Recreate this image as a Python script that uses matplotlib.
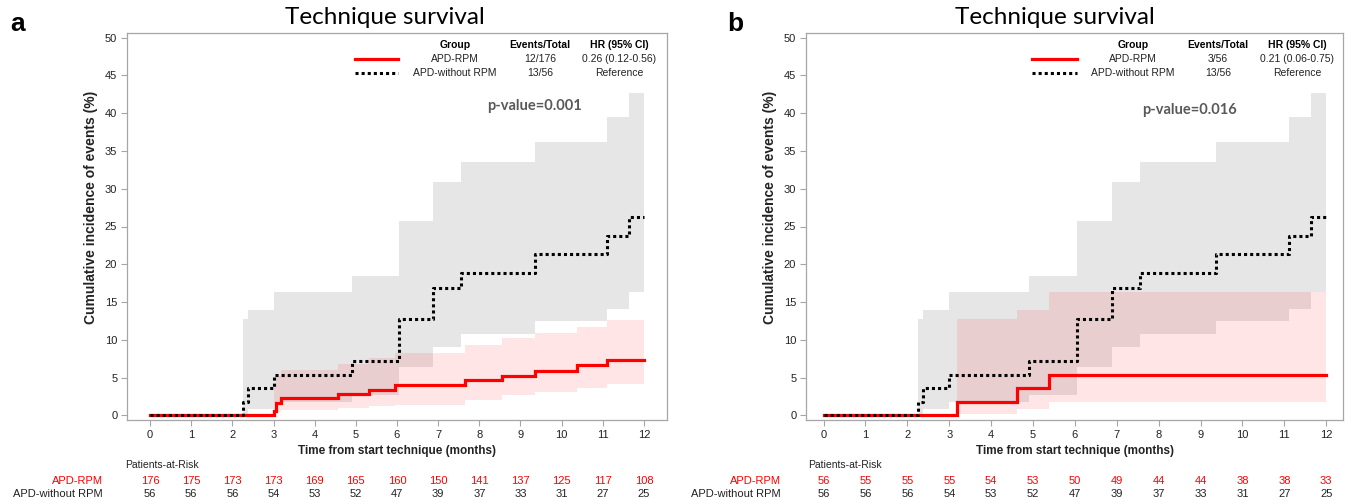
import matplotlib
matplotlib.use("Agg")
import matplotlib.pyplot as plt
import numpy as np
from matplotlib.transforms import blended_transform_factory

# ---------------- data ----------------
months = list(range(0, 13))

# APD-without RPM (reference) - shared in both panels
ref_t = [0, 2.26, 2.38, 3.0, 4.9, 6.04, 6.88, 7.56, 9.36, 11.11, 11.64, 12]
ref_est = [0, 1.79, 3.57, 5.36, 7.14, 12.8, 16.8, 18.9, 21.3, 23.7, 26.3, 26.3]
ref_up = [0, 12.7, 14.0, 16.3, 18.5, 25.7, 30.9, 33.5, 36.2, 39.5, 42.6, 42.6]
ref_lo = [0, 0.25, 0.9, 1.8, 2.7, 6.4, 9.1, 10.8, 12.5, 14.15, 16.3, 16.3]

# Panel a: APD-RPM (all)
a_t = [0, 3.0, 3.07, 3.19, 4.57, 5.31, 5.94, 7.64, 8.55, 9.36, 10.38, 11.11, 12]
a_est = [0, 0.57, 1.71, 2.28, 2.9, 3.43, 4.0, 4.67, 5.24, 5.9, 6.65, 7.3, 7.3]
a_up = [0, 4.0, 5.2, 6.0, 6.75, 7.6, 8.2, 9.3, 10.2, 10.85, 11.7, 12.6, 12.6]
a_lo = [0, 0.1, 0.5, 0.7, 1.0, 1.2, 1.36, 2.0, 2.7, 3.1, 3.57, 4.2, 4.2]

# Panel b: APD-RPM (matched)
b_t = [0, 3.18, 4.61, 5.38, 12]
b_est = [0, 1.79, 3.57, 5.36, 5.36]
b_up = [0, 12.7, 14.0, 16.3, 16.3]
b_lo = [0, 0.25, 0.9, 1.8, 1.8]

risk_ref = [56, 56, 56, 54, 53, 52, 47, 39, 37, 33, 31, 27, 25]
risk_a = [176, 175, 173, 173, 169, 165, 160, 150, 141, 137, 125, 117, 108]
risk_b = [56, 55, 55, 55, 54, 53, 50, 49, 44, 44, 38, 38, 33]

legend_a = ["12/176", "0.26 (0.12-0.56)"]
legend_b = ["3/56", "0.21 (0.06-0.75)"]
ref_legend = ["13/56", "Reference"]
pvals = ["p-value=0.001", "p-value=0.016"]

RED = "#ff0000"
GRAY_BAND = "#e6e6e6"
SPINE = "#a6a6a6"
TXT = "#222222"

fig = plt.figure(figsize=(13.51, 5), dpi=100)
W, H = 1351, 500

def px_ax(l, r, t, b):
    return [l / W, 1 - b / H, (r - l) / W, (b - t) / H]

panels = [
    dict(rect=px_ax(127, 667, 33, 420), xlim=(-0.56, 12.56), t=a_t, est=a_est, up=a_up, lo=a_lo,
         risk=risk_a, leg=legend_a, p=pvals[0], pxy=(9.33, 40.9), letter="a", letx=10,
         titlex=385, labx=103, parx=125, linex=(355, 398), cols=(455, 540, 619)),
    dict(rect=px_ax(806, 1343, 33, 420), xlim=(-0.42, 12.4), t=b_t, est=b_est, up=b_up, lo=b_lo,
         risk=risk_b, leg=legend_b, p=pvals[1], pxy=(8.74, 40.4), letter="b", letx=727,
         titlex=1055, labx=781, parx=808, linex=(1032, 1077), cols=(1133, 1218, 1297)),
]

for P in panels:
    ax = fig.add_axes(P["rect"])
    ax.set_xlim(*P["xlim"])
    ax.set_ylim(-0.6, 50.6)
    # bands
    ax.fill_between(ref_t, ref_lo, ref_up, step="post", color=GRAY_BAND, lw=0, zorder=1)
    ax.fill_between(P["t"], P["lo"], P["up"], step="post", color=RED, alpha=0.10, lw=0, zorder=2)
    # lines
    ax.step(P["t"], P["est"], where="post", color=RED, lw=2.3, zorder=3, solid_joinstyle="miter")
    ax.step(ref_t, ref_est, where="post", color="black", lw=2.2, linestyle=(0, (1.0, 1.0)), zorder=4)

    ax.set_xticks(months)
    ax.set_yticks(range(0, 51, 5))
    ax.tick_params(axis="both", direction="out", length=4, width=0.8, color=SPINE,
                   labelsize=8, labelcolor=TXT, pad=3)
    for lab in ax.get_xticklabels() + ax.get_yticklabels():
        lab.set_family("Liberation Sans")
    for s in ax.spines.values():
        s.set_color(SPINE)
        s.set_linewidth(0.9)
    ax.set_xlabel("Time from start technique (months)", fontsize=8.5, fontweight="bold",
                  family="Liberation Sans", color=TXT, labelpad=4)
    ax.set_ylabel("Cumulative incidence of events (%)", fontsize=10, fontweight="bold",
                  family="Liberation Sans", color=TXT)
    ax.yaxis.set_label_coords(-0.054, 0.55)

    ax.text(P["pxy"][0], P["pxy"][1], P["p"], ha="center", va="center", fontsize=10.5,
            fontweight="bold", family="Lato", color="#595959", zorder=5)

    # title and letter
    fig.text(P["titlex"] / W, 1 - 18 / H, "Technique survival", ha="center", va="center",
             fontsize=17.5, family="Lato", color="black")
    fig.text(P["letx"] / W, 1 - 24 / H, P["letter"], ha="left", va="center", fontsize=19,
             fontweight="bold", family="Liberation Sans", color="black")

    # legend table (figure pixel coordinates)
    c0, c1, c2 = P["cols"]
    rows_y = [45, 59, 73]
    for x, s in zip((c0, c1, c2), ("Group", "Events/Total", "HR (95% CI)")):
        fig.text(x / W, 1 - rows_y[0] / H, s, ha="center", va="center", fontsize=7.5,
                 fontweight="bold", family="Liberation Sans", color="black")
    fig.text(c0 / W, 1 - rows_y[1] / H, "APD-RPM", ha="center", va="center", fontsize=7.5,
             family="Liberation Sans", color=TXT)
    fig.text(c1 / W, 1 - rows_y[1] / H, P["leg"][0], ha="center", va="center", fontsize=7.5,
             family="Liberation Sans", color=TXT)
    fig.text(c2 / W, 1 - rows_y[1] / H, P["leg"][1], ha="center", va="center", fontsize=7.5,
             family="Liberation Sans", color=TXT)
    fig.text(c0 / W, 1 - rows_y[2] / H, "APD-without RPM", ha="center", va="center", fontsize=7.5,
             family="Liberation Sans", color=TXT)
    fig.text(c1 / W, 1 - rows_y[2] / H, ref_legend[0], ha="center", va="center", fontsize=7.5,
             family="Liberation Sans", color=TXT)
    fig.text(c2 / W, 1 - rows_y[2] / H, ref_legend[1], ha="center", va="center", fontsize=7.5,
             family="Liberation Sans", color=TXT)
    lx0, lx1 = P["linex"]
    fig.add_artist(plt.Line2D([lx0 / W, lx1 / W], [1 - rows_y[1] / H] * 2, color=RED, lw=2.3,
                              transform=fig.transFigure))
    fig.add_artist(plt.Line2D([lx0 / W, lx1 / W], [1 - rows_y[2] / H] * 2, color="black", lw=2.2,
                              linestyle=(0, (1.0, 1.0)), transform=fig.transFigure))

    # risk table
    tr = blended_transform_factory(ax.transData, fig.transFigure)
    fig.text(P["parx"] / W, 1 - 465 / H, "Patients-at-Risk", ha="left", va="center", fontsize=7.5,
             family="Liberation Sans", color=TXT)
    fig.text(P["labx"] / W, 1 - 481 / H, "APD-RPM", ha="right", va="center", fontsize=8,
             family="Liberation Sans", color=RED)
    fig.text(P["labx"] / W, 1 - 494 / H, "APD-without RPM", ha="right", va="center", fontsize=8,
             family="Liberation Sans", color=TXT)
    for m, r1, r2 in zip(months, P["risk"], risk_ref):
        ax.text(m, 1 - 481 / H, str(r1), transform=tr, ha="center", va="center", fontsize=8,
                family="Liberation Sans", color=RED, clip_on=False)
        ax.text(m, 1 - 494 / H, str(r2), transform=tr, ha="center", va="center", fontsize=8,
                family="Liberation Sans", color=TXT, clip_on=False)

fig.savefig("out.png", dpi=100)
